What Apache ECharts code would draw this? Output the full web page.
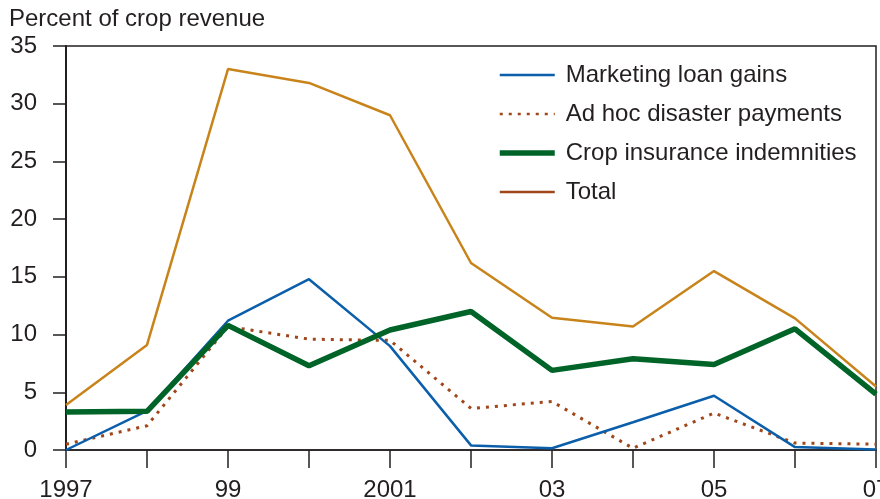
<!DOCTYPE html>
<html>
<head>
<meta charset="utf-8">
<script src="https://cdn.jsdelivr.net/npm/echarts@6/dist/echarts.min.js"></script>
<style>html,body{margin:0;padding:0;background:#fff}#c{width:880px;height:499px}</style>
</head>
<body>
<div id="c"></div>
<script>
const years = ['1997','1998','1999','2000','2001','2002','2003','2004','2005','2006','2007'];
const xTickLabels = ['1997','','99','','2001','','03','','05','','07'];
const marketingLoanGains = [0, 3.4, 11.2, 14.8, 9.0, 0.4, 0.15, 2.4, 4.7, 0.25, 0.05];
const adHocDisaster = [0.5, 2.1, 10.7, 9.6, 9.5, 3.6, 4.2, 0.15, 3.2, 0.6, 0.5];
const cropInsurance = [3.3, 3.35, 10.8, 7.3, 10.4, 12.0, 6.9, 7.9, 7.4, 10.5, 4.85];
const total = [3.9, 9.1, 33.0, 31.8, 29.0, 16.2, 11.45, 10.7, 15.5, 11.4, 5.5];

const font = 'Liberation Sans, Arial, Helvetica, sans-serif';
const txt = '#231f20';
const chart = echarts.init(document.getElementById('c'), null, {renderer: 'canvas'});
chart.setOption({
  animation: false,
  backgroundColor: '#fff',
  textStyle: {fontFamily: font, color: txt},
  title: {
    text: 'Percent of crop revenue', left: 9, top: 7, padding: 0,
    textStyle: {fontFamily: font, fontSize: 24, fontWeight: 'normal', color: txt}
  },
  grid: {left: 66, right: 4, top: 46, bottom: 49, show: true, borderColor: '#231f20', borderWidth: 1.5,
    backgroundColor: 'transparent', outerBoundsMode: 'none', containLabel: false},
  legend: {
    orient: 'vertical', left: 497, top: 63, padding: 0, itemWidth: 55, itemHeight: 14, itemGap: 15,
    itemStyle: {opacity: 0},
    textStyle: {fontFamily: font, fontSize: 24, color: txt, padding: [0, 0, 0, 6]},
    data: [
      {name: 'Marketing loan gains', lineStyle: {width: 2.5}},
      {name: 'Ad hoc disaster payments', lineStyle: {width: 2.5}},
      {name: 'Crop insurance indemnities', lineStyle: {width: 5.5}},
      {name: 'Total', lineStyle: {color: '#A0461A', width: 2.5}}
    ]
  },
  xAxis: {
    type: 'category', data: years, boundaryGap: false,
    axisLine: {lineStyle: {color: '#231f20', width: 1.5}},
    axisTick: {show: true, interval: 0, length: 18, lineStyle: {color: '#231f20', width: 1.5}},
    axisLabel: {interval: 0, margin: 28, fontSize: 24, color: txt, fontFamily: font,
      formatter: (v, i) => xTickLabels[i]},
    splitLine: {show: false}
  },
  yAxis: {
    type: 'value', min: 0, max: 35, interval: 5,
    axisLine: {show: true, lineStyle: {color: '#231f20', width: 2}},
    axisTick: {show: true, length: 13, lineStyle: {color: '#231f20', width: 1.5}},
    axisLabel: {fontSize: 24, color: txt, fontFamily: font, margin: 29},
    splitLine: {show: false}
  },
  series: [
    {name: 'Total', type: 'line', data: total, symbol: 'none', z: 2,
      lineStyle: {color: '#C8841A', width: 2.5}, itemStyle: {color: '#C8841A'}},
    {name: 'Ad hoc disaster payments', type: 'line', data: adHocDisaster, symbol: 'none', z: 3,
      lineStyle: {color: '#A0461A', width: 3, type: [3, 6]}, itemStyle: {color: '#A0461A'}},
    {name: 'Marketing loan gains', type: 'line', data: marketingLoanGains, symbol: 'none', z: 4,
      lineStyle: {color: '#0A5EAA', width: 2.5}, itemStyle: {color: '#0A5EAA'}},
    {name: 'Crop insurance indemnities', type: 'line', data: cropInsurance, symbol: 'none', z: 5,
      lineStyle: {color: '#006428', width: 5.5}, itemStyle: {color: '#006428'}}
  ]
});
</script>
</body>
</html>
